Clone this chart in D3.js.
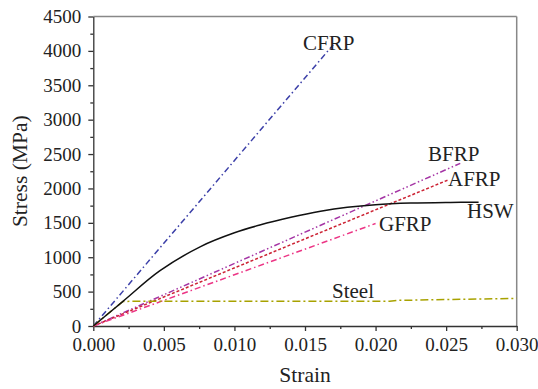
<!DOCTYPE html>
<html>
<head>
<meta charset="utf-8">
<script src="https://cdn.jsdelivr.net/npm/d3@7"></script>
<style>
  body { margin: 0; background: #fff; }
  svg text { font-family: "Liberation Serif", "Times New Roman", Times, "DejaVu Serif", serif; }
  .axis path, .axis line { stroke: #333; stroke-width: 1.3; }
  .axis text { font-size: 19px; fill: #222; }
</style>
</head>
<body>
<svg id="chart"></svg>
<script>
// strain / stress (MPa) pairs
const hswStrain = [0, 0.0021, 0.0047, 0.0076, 0.0100, 0.0118, 0.0140, 0.0161, 0.0180, 0.0200, 0.0225, 0.0253, 0.0273];
const hswStress = [0, 358, 800, 1155, 1355, 1468, 1580, 1668, 1726, 1764, 1787, 1797, 1800];
const steelStrain = [0, 0.0021, 0.0210, 0.0215, 0.0300];
const steelStress = [0, 358, 360, 372, 402];
const cfrpStrain = [0, 0.0170];
const cfrpStress = [0, 4090];
const bfrpStrain = [0, 0.0260];
const bfrpStress = [0, 2365];
const afrpStrain = [0, 0.0251];
const afrpStress = [0, 2120];
const gfrpStrain = [0, 0.0200];
const gfrpStress = [0, 1490];

const xTicks = [0, 0.005, 0.010, 0.015, 0.020, 0.025, 0.030];
const yTicks = [0, 500, 1000, 1500, 2000, 2500, 3000, 3500, 4000, 4500];

const series = [
  { name: 'CFRP', x: cfrpStrain, y: cfrpStress, color: '#3b3fa8', dash: '6,3,1.5,3', lx: 303, ly: 50 },
  { name: 'BFRP', x: bfrpStrain, y: bfrpStress, color: '#a535a5', dash: '6,2.5,1.5,2.5,1.5,2.5', lx: 428, ly: 161 },
  { name: 'AFRP', x: afrpStrain, y: afrpStress, color: '#cc2233', dash: '3,2', lx: 448, ly: 186 },
  { name: 'GFRP', x: gfrpStrain, y: gfrpStress, color: '#ec3585', dash: '6,3,1.5,3', lx: 379, ly: 231 },
  { name: 'Steel', x: steelStrain, y: steelStress, color: '#a8a200', dash: '8,3,2,3', lx: 332, ly: 298 },
  { name: 'HSW', x: hswStrain, y: hswStress, color: '#111', dash: null, lx: 467, ly: 218 }
];

const svgWidth = 538, svgHeight = 389;
const margin = { top: 16.5, right: 21.3, bottom: 63, left: 93.3 };
const width = svgWidth - margin.left - margin.right;
const height = svgHeight - margin.top - margin.bottom;

const svg = d3.select('#chart')
  .attr('width', svgWidth)
  .attr('height', svgHeight);
const g = svg.append('g')
  .attr('transform', 'translate(' + margin.left + ',' + margin.top + ')');

const xScale = d3.scaleLinear().domain([0, 0.030]).range([0, width]);
const yScale = d3.scaleLinear().domain([0, 4500]).range([height, 0]);

// top and right frame
g.append('line').attr('x1', 0).attr('x2', width).attr('y1', 0).attr('y2', 0)
  .attr('stroke', '#888').attr('stroke-width', 1.5);
g.append('line').attr('x1', width).attr('x2', width).attr('y1', 0).attr('y2', height)
  .attr('stroke', '#888').attr('stroke-width', 1.5);

// minor ticks
g.append('g').attr('class', 'axis')
  .attr('transform', 'translate(0,' + height + ')')
  .call(d3.axisBottom(xScale).tickValues(d3.range(0.0025, 0.030, 0.005)).tickSize(3).tickFormat(''))
  .select('.domain').remove();
g.append('g').attr('class', 'axis')
  .call(d3.axisLeft(yScale).tickValues(d3.range(250, 4500, 500)).tickSize(3).tickFormat(''))
  .select('.domain').remove();

// major axes
g.append('g').attr('class', 'axis')
  .attr('transform', 'translate(0,' + height + ')')
  .call(d3.axisBottom(xScale).tickValues(xTicks).tickSize(5).tickSizeOuter(0).tickPadding(7).tickFormat(d3.format('.3f')));
g.append('g').attr('class', 'axis')
  .call(d3.axisLeft(yScale).tickValues(yTicks).tickSize(5).tickSizeOuter(0).tickPadding(7).tickFormat(d3.format('d')));

// curves
const smooth = d3.line()
  .x(d => xScale(d[0]))
  .y(d => yScale(d[1]))
  .curve(d3.curveCatmullRom);
const straight = d3.line()
  .x(d => xScale(d[0]))
  .y(d => yScale(d[1]));

series.forEach(s => {
  const pts = s.x.map((v, i) => [v, s.y[i]]);
  g.append('path')
    .datum(pts)
    .attr('d', s.name === 'HSW' ? smooth : straight)
    .attr('fill', 'none')
    .attr('stroke', s.color)
    .attr('stroke-width', 1.5)
    .attr('stroke-dasharray', s.dash);
  svg.append('text')
    .attr('x', s.lx)
    .attr('y', s.ly)
    .attr('font-size', 21)
    .attr('fill', '#222')
    .text(s.name);
});

// axis titles
svg.append('text')
  .attr('x', margin.left + width / 2)
  .attr('y', 382)
  .attr('text-anchor', 'middle')
  .attr('font-size', 21.5)
  .attr('fill', '#222')
  .text('Strain');
svg.append('text')
  .attr('transform', 'translate(26.5,' + (margin.top + height / 2) + ') rotate(-90)')
  .attr('text-anchor', 'middle')
  .attr('font-size', 21.5)
  .attr('fill', '#222')
  .text('Stress (MPa)');
</script>
</body>
</html>
